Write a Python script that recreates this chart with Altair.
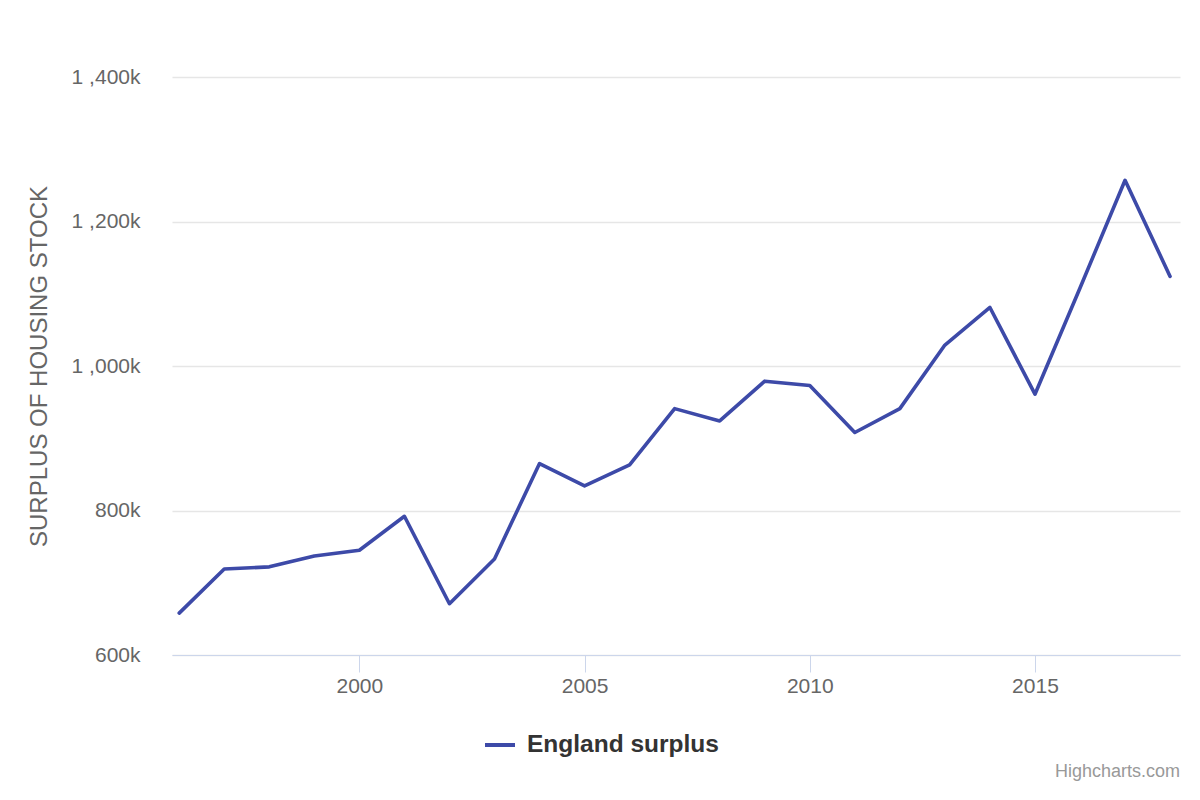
import altair as alt
import pandas as pd

years = list(range(1996, 2019))
surplus = [658000, 719000, 722000, 737000, 745000, 792000, 671000, 733000,
           865000, 834000, 863000, 941000, 924000, 979000, 973000, 908000,
           941000, 1029000, 1081000, 961000, 1108000, 1257000, 1124000]
series = ["England surplus"] * len(years)
y_ticks = [600000, 800000, 1000000, 1200000, 1400000]
x_ticks = [2000, 2005, 2010, 2015]

df = pd.DataFrame({"year": years, "surplus": surplus, "series": series})

FONT = "Liberation Sans"

line = alt.Chart(df).mark_line(
    strokeWidth=3.6, strokeJoin="round", strokeCap="round"
).encode(
    x=alt.X(
        "year:Q",
        scale=alt.Scale(domain=[1995.84, 2018.22], nice=False, zero=False),
        axis=alt.Axis(
            values=x_ticks, format="d", title=None, grid=False,
            domainColor="#ccd6eb", domainWidth=1, tickColor="#ccd6eb",
            tickSize=17, tickWidth=1, labelFontSize=21, labelColor="#666666",
            labelPadding=3, labelFont=FONT,
        ),
    ),
    y=alt.Y(
        "surplus:Q",
        scale=alt.Scale(domain=[600000, 1400000], nice=False, zero=False),
        axis=alt.Axis(
            values=y_ticks,
            labelExpr="replace(format(datum.value/1000, ','), ',', ' ,') + 'k'",
            title="SURPLUS OF HOUSING STOCK", titleFontSize=24,
            titleFontWeight="normal", titleColor="#666666", titleFont=FONT,
            titleX=-133, titleY=289, titleAlign="center", titleBaseline="middle",
            titleAngle=270,
            grid=True, gridColor="#e6e6e6", gridWidth=1.5, domain=False, ticks=False,
            labelPadding=32, labelFontSize=21, labelColor="#666666", labelFont=FONT,
        ),
    ),
    color=alt.Color(
        "series:N",
        scale=alt.Scale(range=["#3d4aa8"]),
        title=None,
        legend=alt.Legend(
            orient="none", legendX=311, legendY=651, symbolType="stroke",
            symbolStrokeWidth=4, symbolSize=900, labelFontSize=24.5,
            labelFontWeight="bold", labelColor="#333333", labelFont=FONT,
            labelOffset=10, labelLimit=400,
        ),
    ),
)

chart = line.properties(
    width=1008,
    height=578,
    padding={"left": 164, "top": 69, "right": 12, "bottom": 130},
    autosize=alt.AutoSizeParams(type="none"),
    title=alt.Title(
        "Highcharts.com", orient="bottom", anchor="end", fontSize=18,
        fontWeight="normal", color="#999999", font=FONT, offset=6,
    ),
).configure_view(stroke=None)

chart.save("out.html", embed_options={"renderer": "svg", "actions": False})
